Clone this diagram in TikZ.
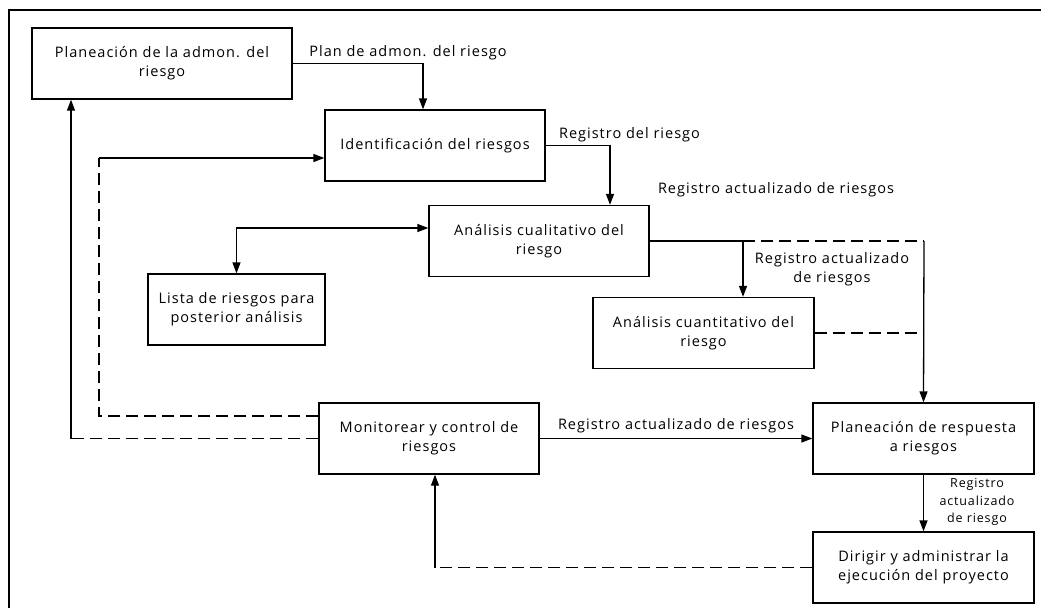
\documentclass[tikz,border=0pt]{standalone}
\usepackage{fontspec}
\setmainfont{Open Sans}[LetterSpace=7]
\usepackage{tikz}
\usetikzlibrary{
  arrows.meta,
  positioning,
  calc}
\tikzset{every picture/.style={font issue=\fontsize{14.5}{19}},
         font issue/.style={execute at begin picture={#1\selectfont}}
        }

\begin{document}
\begin{tikzpicture}[x=1pt,y=-1pt,
    box/.style={draw,line width=1.3pt,align=center,minimum width=220pt,minimum height=71pt,inner sep=2pt},
    lbl/.style={align=center},
    flow/.style={line width=1.3pt,-{Triangle[length=11pt,width=8pt]}},
    dashflow/.style={line width=1.3pt,dash pattern=on 12pt off 6pt}]
    \useasboundingbox (0,0) rectangle (1041,608);
    \draw[line width=1.8pt] (9,608) -- (9,10) -- (1041,10);

    \node[box,minimum width=260pt] at (162,63.5) (plan){Planeación de la admon. del\\riesgo};
    \node[box] at (435,145.5) (ident){Identificación del riesgos};
        \node[box] at (539,241) (cuali){Análisis cualitativo del\\riesgo};
        \node[box,minimum width=177pt] at (236.5,309.5) (lista){Lista de riesgos para\\posterior análisis};
                \node[box,minimum width=221pt] at (703.5,333) (cuanti){Análisis cuantitativo del\\riesgo};
    \node[box] at (429,438.5) (monitor){Monitorear y control de\\riesgos};
                \node[box,minimum width=221pt] at (923.5,438.5) (resp){Planeación de respuesta\\a riesgos};
                \node[box,minimum width=221pt] at (923.5,567.5) (dirigir){Dirigir y administrar la\\ejecución del proyecto};

    \coordinate (d1) at (99,416);
    \coordinate (d2) at (99,158);
    \coordinate (d3) at (71,438.5);
    \coordinate (j1) at (743,241);
    \coordinate (j2) at (924,241);
    \coordinate (d4) at (435,567.5);

    \draw[flow] (plan.east) -| ([xshift=-12pt]ident.north);
        \node[lbl] at (408,53) (l_plan){Plan de admon. del riesgo};
    \draw[flow] (ident.east) -| ([xshift=71pt]cuali.north);
        \node[lbl] at (629.5,135) (l_reg){Registro del riesgo};
        \node[lbl] at (776,190) (l_act){Registro actualizado de riesgos};
    \draw[line width=1.3pt,{Triangle[length=11pt,width=8pt]}-{Triangle[length=11pt,width=8pt]}] ([yshift=13pt]cuali.west) -| (lista.north);

    \draw[line width=1.3pt] (cuali.east) -- (j1);
    \draw[flow] (j1) -- (cuanti.north -| j1);
    \draw[dashflow] (j1) -- (j2);
    \draw[flow] (j2) -- (resp.north);
        \node[lbl] at (832,269) (l_cuanti){Registro actualizado\\de riesgos};
    \draw[dashflow] (cuanti.east) -- (cuanti.east -| j2);

    \draw[flow] (monitor.east) -- node[pos=0.5,above,inner sep=5pt]{Registro actualizado de riesgos} (resp.west);
    \draw[flow] (resp.south) -- (dirigir.north);
        \node[lbl,font=\fontsize{12.5}{17.5}\selectfont] at (977,502) (l_resp){Registro\\actualizado\\de riesgo};

    \draw[dashflow] (dirigir.west) -- (d4);
    \draw[flow] (d4) -- (monitor.south -| d4);

    \draw[dashflow] (monitor.west |- d1) -- (d1) -- (d2);
    \draw[flow] (d2) -- (ident.west |- d2);
    \draw[dashflow] (monitor.west) -- (d3);
    \draw[flow] (d3) -- (plan.south -| d3);
    \end{tikzpicture}
\end{document}
